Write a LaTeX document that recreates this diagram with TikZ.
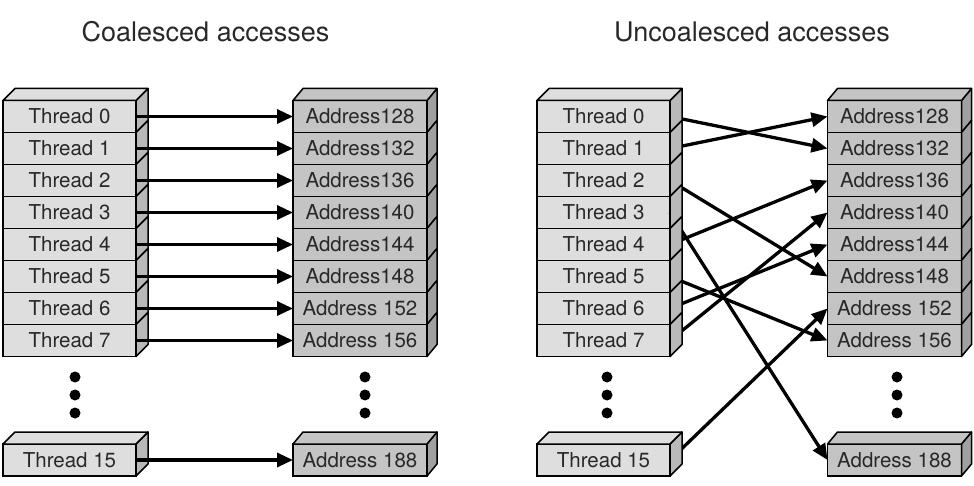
\documentclass[tikz,border=0pt]{standalone}
\usepackage{fontspec}
\setmainfont{TeX Gyre Heros}
\usetikzlibrary{arrows.meta,calc}
\definecolor{thrfront}{RGB}{222,222,222}
\definecolor{thrside}{RGB}{185,185,185}
\definecolor{adrfront}{RGB}{196,196,196}
\definecolor{adrside}{RGB}{160,160,160}
\definecolor{txt}{RGB}{40,40,40}
\begin{document}
\begin{tikzpicture}[x=1pt,y=-1pt,
  thr/.style={draw=black, line width=1.5pt, fill=thrfront, minimum width=133pt, minimum height=32pt, inner sep=0pt, outer sep=0pt, text=txt, font=\fontsize{20.5}{24}\selectfont},
  adr/.style={thr, fill=adrfront, minimum width=134pt},
  face/.style={draw=black, line width=1.5pt, line join=round},
  arr/.style={line width=3.3pt, -{Triangle[length=16pt,width=14pt]}},
  title/.style={anchor=base, font=\fontsize{27}{30}\selectfont, text=txt},
  dot/.style={circle, fill=black, inner sep=0pt, minimum size=11pt}]
\useasboundingbox (0,0) rectangle (974,486);

% titles
\node[title] (t1) at (205.5,42) {Coalesced accesses};
\node[title] (t2) at (752,42) {Uncoalesced accesses};

% ---------- left panel ----------
\foreach \i in {0,...,7} \node[thr] (LT\i) at (69.5,{116.5+32*\i}) {Thread \i};
\node[thr] (LT15) at (69.5,460) {Thread 15};
\foreach \i/\t in {0/Address128,1/Address132,2/Address136,3/Address140,4/Address144,5/Address148,6/Address 152,7/Address 156}
  \node[adr] (LA\i) at (360,{116.5+32*\i}) {\t};
\node[adr] (LA15) at (360,460) {Address 188};

% ---------- right panel ----------
\foreach \i in {0,...,7} \node[thr] (RT\i) at (603.5,{116.5+32*\i}) {Thread \i};
\node[thr] (RT15) at (603.5,460) {Thread 15};
\foreach \i/\t in {0/Address128,1/Address132,2/Address136,3/Address140,4/Address144,5/Address148,6/Address 152,7/Address 156}
  \node[adr] (RA\i) at (894.5,{116.5+32*\i}) {\t};
\node[adr] (RA15) at (894.5,460) {Address 188};

% right-panel arrows (side faces drawn over them)
\draw[arr] (RT0.east) -- (RA1.west);
\draw[arr] (RT1.east) -- (RA0.west);
\draw[arr] (RT2.east) -- (RA5.west);
\draw[arr] (RT3.east) -- (RA15.west);
\draw[arr] (RT4.east) -- (RA2.west);
\draw[arr] (RT5.east) -- (RA7.west);
\draw[arr] (RT6.east) -- (RA4.west);
\draw[arr] (RT7.east) -- (RA3.west);
\draw[arr] (RT15.east) -- (RA6.west);

% 3D faces of threads
\foreach \n in {LT0,LT1,LT2,LT3,LT4,LT5,LT6,LT7,LT15,RT0,RT1,RT2,RT3,RT4,RT5,RT6,RT7,RT15}
  \draw[face, fill=thrside] (\n.north east) -- ++(12,-12) -- ($(\n.south east)+(12,-12)$) -- (\n.south east) -- cycle;
\foreach \n in {LT0,LT15,RT0,RT15}
  \draw[face, fill=thrfront] (\n.north west) -- ++(12,-12) -- ($(\n.north east)+(12,-12)$) -- (\n.north east) -- cycle;

% 3D faces of addresses
\foreach \n in {LA0,LA1,LA2,LA3,LA4,LA5,LA6,LA7,LA15,RA0,RA1,RA2,RA3,RA4,RA5,RA6,RA7,RA15}
  \draw[face, fill=adrside] (\n.north east) -- ++(10,-12) -- ($(\n.south east)+(10,-12)$) -- (\n.south east) -- cycle;
\foreach \n in {LA0,LA15,RA0,RA15}
  \draw[face, fill=adrfront] (\n.north west) -- ++(10,-12) -- ($(\n.north east)+(10,-12)$) -- (\n.north east) -- cycle;

% left-panel arrows
\foreach \i in {0,...,7,15} \draw[arr] (LT\i.east) -- (LA\i.west);

% dots
\foreach \x/\p in {75/a,365/b,607/c,897/d}
  \foreach \y/\q in {377/1,395/2,413/3}
    \node[dot] (dot\p\q) at (\x,\y) {};
\end{tikzpicture}
\end{document}
